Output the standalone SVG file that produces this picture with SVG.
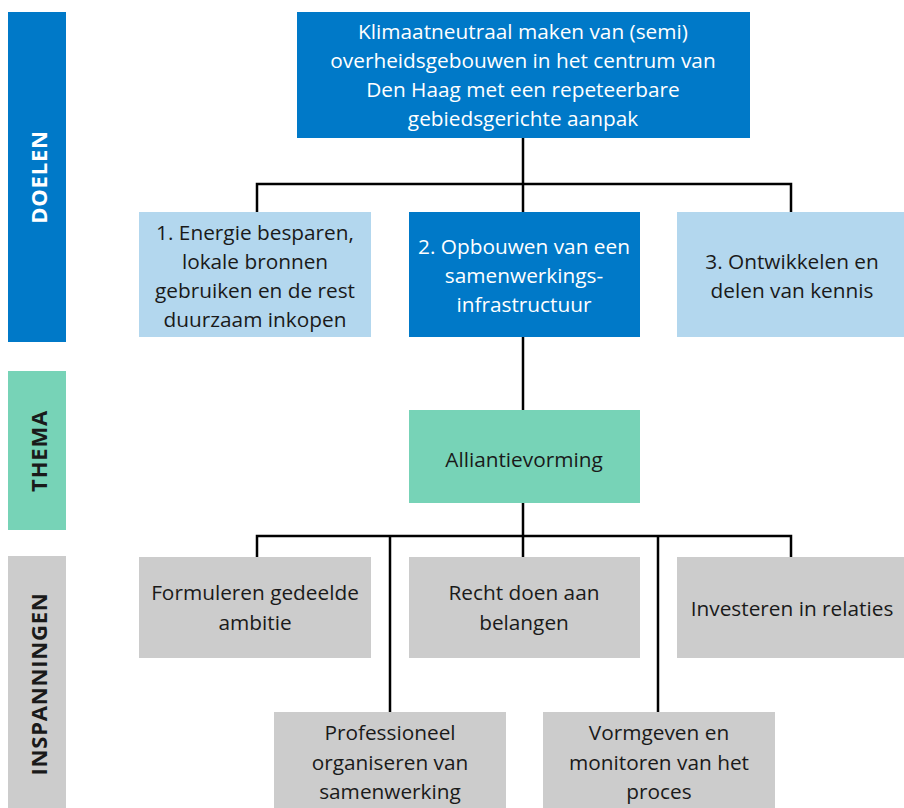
<svg xmlns="http://www.w3.org/2000/svg" width="904" height="808" viewBox="0 0 904 808">
<style>
.t{font-family:"Open Sans","Noto Sans",sans-serif;font-size:20.8px;text-anchor:middle;fill:#1a1a1a}
.side{font-family:"Open Sans","Noto Sans",sans-serif;font-size:22px;font-weight:bold;text-anchor:middle;fill:#1a1a1a;letter-spacing:0.8px}
.w{fill:#ffffff}
.blue{fill:#0079c8}
.lblue{fill:#b3d7ee}
.teal{fill:#77d3b7}
.grey{fill:#cccccc}
.c{fill:none;stroke:#000;stroke-width:2.5}
</style>
<g id="side-doelen"><rect class="blue" x="8" y="12" width="58" height="330"/><text class="side w" transform="translate(47,177) rotate(-90)">DOELEN</text></g>
<g id="side-thema"><rect class="teal" x="8" y="371" width="58" height="159"/><text class="side" transform="translate(47,451) rotate(-90)">THEMA</text></g>
<g id="side-inspanningen"><rect class="grey" x="8" y="556" width="58" height="252"/><text class="side" transform="translate(47,684) rotate(-90)" letter-spacing="0.3">INSPANNINGEN</text></g>
<g id="connectors">
<path class="c" d="M523,138V212M257,212V184H791V212"/>
<path class="c" d="M523,337V410"/>
<path class="c" d="M523,503V557M257,557V536H791V557M390,536V712M658,536V712"/>
</g>
<g id="top"><rect class="blue" x="297" y="12" width="453" height="126"/>
<text class="t w"><tspan x="523" y="39">Klimaatneutraal maken van (semi)</tspan><tspan x="523" y="68">overheidsgebouwen in het centrum van</tspan><tspan x="523" y="97">Den Haag met een repeteerbare</tspan><tspan x="523" y="126">gebiedsgerichte aanpak</tspan></text></g>
<g id="doel1"><rect class="lblue" x="139" y="212" width="232" height="125"/>
<text class="t"><tspan x="255" y="240">1. Energie besparen,</tspan><tspan x="255" y="269">lokale bronnen</tspan><tspan x="255" y="298">gebruiken en de rest</tspan><tspan x="255" y="327">duurzaam inkopen</tspan></text></g>
<g id="doel2"><rect class="blue" x="409" y="212" width="231" height="125"/>
<text class="t w"><tspan x="524" y="254">2. Opbouwen van een</tspan><tspan x="524" y="283">samenwerkings-</tspan><tspan x="524" y="312">infrastructuur</tspan></text></g>
<g id="doel3"><rect class="lblue" x="677" y="212" width="231" height="125"/>
<text class="t"><tspan x="792" y="269">3. Ontwikkelen en</tspan><tspan x="792" y="298">delen van kennis</tspan></text></g>
<g id="thema"><rect class="teal" x="409" y="410" width="231" height="93"/>
<text class="t" x="524" y="467">Alliantievorming</text></g>
<g id="insp1"><rect class="grey" x="139" y="557" width="232" height="101"/>
<text class="t"><tspan x="255" y="600">Formuleren gedeelde</tspan><tspan x="255" y="630">ambitie</tspan></text></g>
<g id="insp2"><rect class="grey" x="409" y="557" width="231" height="101"/>
<text class="t"><tspan x="524" y="600">Recht doen aan</tspan><tspan x="524" y="630">belangen</tspan></text></g>
<g id="insp3"><rect class="grey" x="677" y="557" width="231" height="101"/>
<text class="t" x="792" y="616">Investeren in relaties</text></g>
<g id="insp4"><rect class="grey" x="274" y="712" width="232" height="100"/>
<text class="t"><tspan x="390" y="740">Professioneel</tspan><tspan x="390" y="770">organiseren van</tspan><tspan x="390" y="799">samenwerking</tspan></text></g>
<g id="insp5"><rect class="grey" x="543" y="712" width="232" height="100"/>
<text class="t"><tspan x="659" y="740">Vormgeven en</tspan><tspan x="659" y="770">monitoren van het</tspan><tspan x="659" y="799">proces</tspan></text></g>
</svg>
